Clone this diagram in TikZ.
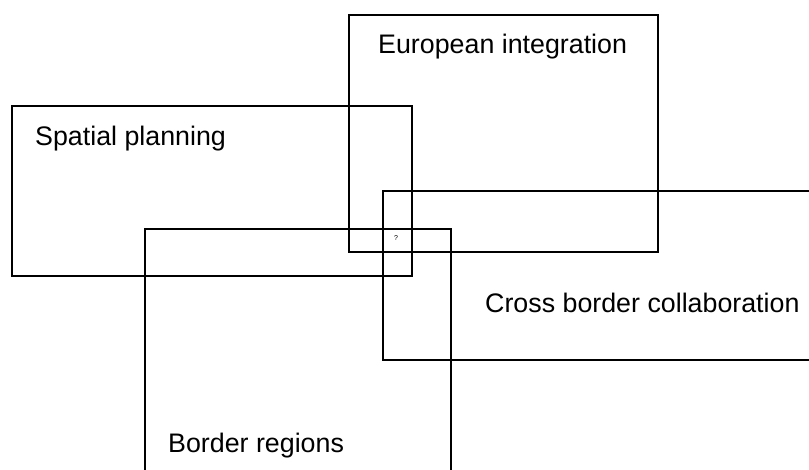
\documentclass[tikz,border=0pt]{standalone}
\usepackage{fontspec}
\setmainfont{Liberation Sans}
\begin{document}
\begin{tikzpicture}[
    x=1pt, y=-1pt,
    area/.style={draw, line width=1.8pt},
    label/.style={anchor=base west, inner sep=0pt, font=\fontsize{26.8}{30}\selectfont},
    tiny/.style={inner sep=0pt, font=\fontsize{7}{8}\selectfont}
]
\useasboundingbox (0,0) rectangle (809,470);

% The four overlapping fields
\draw[area] (12,106) rectangle (412,276);
\draw[area] (349,15) rectangle (658,252);
\draw[area] (383,191) rectangle (830,360);
\draw[area] (145,229) rectangle (451,490);

% Field names
\node[label] (spatial) at (35,146) {Spatial planning};
\node[label] (europe) at (378,54) {European integration};
\node[label] (cross) at (485,313) {Cross border collaboration};
\node[label] (border) at (168,452) {Border regions};

% Common core
\node[tiny] (core) at (396,238) {?};

\end{tikzpicture}
\end{document}
